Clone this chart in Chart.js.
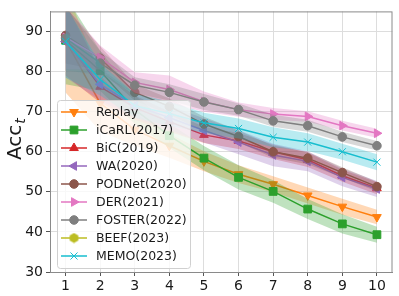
<!DOCTYPE html>
<html>
<head>
<meta charset="utf-8">
<script src="https://cdn.jsdelivr.net/npm/chart.js@4.4.1/dist/chart.umd.min.js"></script>
<style>
  html, body { margin: 0; padding: 0; background: #fff; }
</style>
</head>
<body>
<canvas id="accChart" width="399" height="296"></canvas>
<script>
// tasks on the x axis, tick labels on y
const tasks = [1, 2, 3, 4, 5, 6, 7, 8, 9, 10];
const yTicks = [30, 40, 50, 60, 70, 80, 90];

// mean accuracy per task, with the shaded spread (std)
const replay    = [87.8, 72.1, 65.5, 61.5, 57.6, 54.4, 51.9, 49.1, 46.3, 43.7];
const replayStd = [13, 7, 4, 3, 2.5, 2.2, 2, 2, 2, 1.8];
const icarl     = [87.8, 80.2, 70.5, 64.0, 58.4, 53.6, 50.1, 45.7, 42.0, 39.3];
const icarlStd  = [11, 5, 3.5, 3, 3, 3, 2.8, 2.5, 2.4, 2];
const bic       = [88.0, 76.2, 71.0, 67.5, 64.2, 62.7, 60.0, 58.0, 54.0, 50.9];
const bicStd    = [9, 4, 3, 2.5, 2, 2, 1.8, 1.8, 1.5, 1.5];
const wa        = [87.5, 76.8, 71.5, 68.5, 65.3, 62.4, 59.2, 57.6, 53.6, 50.7];
const waStd     = [9, 4, 3, 3, 3, 3, 2.8, 2.5, 2.2, 2];
const podnet    = [89.0, 83.3, 74.8, 71.3, 66.9, 63.8, 60.0, 58.4, 54.8, 51.3];
const podnetStd = [7, 3, 2, 2, 1.8, 1.5, 1.5, 1.5, 1.3, 1.2];
const der       = [88.5, 83.5, 77.3, 75.5, 72.5, 70.5, 69.4, 68.8, 66.5, 64.6];
const derStd    = [8, 3, 2.5, 3.5, 2.5, 1.8, 1.5, 1.3, 1.2, 1.1];
const foster    = [88.3, 82.1, 76.6, 74.8, 72.4, 70.5, 67.7, 66.5, 63.7, 61.5];
const fosterStd = [8, 3, 2, 2, 2, 1.5, 1.5, 1.5, 1.3, 1.2];
const beef      = [null, null, null, null, null, null, null, null, null, null];
const beefStd   = [null, null, null, null, null, null, null, null, null, null];
const memo      = [87.5, 78.0, 71.5, 69.5, 67.2, 65.8, 63.6, 62.4, 60.0, 57.4];
const memoStd   = [9, 4, 3, 3, 2.5, 2.5, 2.5, 2.2, 2, 2];

// hexagon marker for BEEF (no built-in hexagon in Chart.js)
function hexMarker(color) {
  const c = document.createElement('canvas');
  c.width = 11; c.height = 11;
  const g = c.getContext('2d');
  g.beginPath();
  for (let i = 0; i < 6; i++) {
    const a = Math.PI / 6 + i * Math.PI / 3;
    const px = 5.5 + 5 * Math.cos(a), py = 5.5 + 5 * Math.sin(a);
    i ? g.lineTo(px, py) : g.moveTo(px, py);
  }
  g.closePath();
  g.fillStyle = color;
  g.fill();
  return c;
}

const series = [
  { label: 'Replay',       mean: replay, std: replayStd, color: '#ff7f0e', style: 'triangle', rot: 180, r: 5 },
  { label: 'iCaRL(2017)',  mean: icarl,  std: icarlStd,  color: '#2ca02c', style: 'rect',     rot: 0,   r: 5.5 },
  { label: 'BiC(2019)',    mean: bic,    std: bicStd,    color: '#d62728', style: 'triangle', rot: 0,   r: 5 },
  { label: 'WA(2020)',     mean: wa,     std: waStd,     color: '#9467bd', style: 'triangle', rot: -90, r: 5 },
  { label: 'PODNet(2020)', mean: podnet, std: podnetStd, color: '#8c564b', style: 'circle',   rot: 0,   r: 4.3 },
  { label: 'DER(2021)',    mean: der,    std: derStd,    color: '#e377c2', style: 'triangle', rot: 90,  r: 5 },
  { label: 'FOSTER(2022)', mean: foster, std: fosterStd, color: '#7f7f7f', style: 'circle',   rot: 0,   r: 4.3 },
  { label: 'BEEF(2023)',   mean: beef,   std: beefStd,   color: '#bcbd22', style: hexMarker('#bcbd22'), rot: 0, r: 5 },
  { label: 'MEMO(2023)',   mean: memo,   std: memoStd,   color: '#17becf', style: 'crossRot', rot: 0,   r: 5 },
];

function alpha(hex, a) {
  const n = parseInt(hex.slice(1), 16);
  return `rgba(${n >> 16},${(n >> 8) & 255},${n & 255},${a})`;
}

// band (upper, lower filled to upper) then the line, per series
const datasets = [];
let k = 0;
series.forEach(s => {
  const up = tasks.map((t, i) => ({ x: t, y: s.mean[i] == null ? null : s.mean[i] + s.std[i] }));
  const lo = tasks.map((t, i) => ({ x: t, y: s.mean[i] == null ? null : s.mean[i] - s.std[i] }));
  datasets.push({ data: up, borderWidth: 0, borderColor: 'transparent', pointRadius: 0, fill: false, order: 1000 - k++ });
  datasets.push({ data: lo, borderWidth: 0, borderColor: 'transparent', pointRadius: 0,
                  fill: '-1', backgroundColor: alpha(s.color, 0.3), order: 1000 - k++ });
  datasets.push({
    label: s.label,
    data: tasks.map((t, i) => ({ x: t, y: s.mean[i] })),
    borderColor: s.color, backgroundColor: s.color, borderWidth: 1.5, fill: false,
    pointStyle: s.style, pointRotation: s.rot, pointRadius: s.r,
    pointBackgroundColor: s.color, pointBorderColor: s.color, pointBorderWidth: 1,
    order: 1000 - k++
  });
});

const frame = {
  id: 'frame',
  afterDatasetsDraw(chart) {
    const { ctx, chartArea: a } = chart;
    ctx.save();
    ctx.strokeStyle = '#8a8a8a';
    ctx.lineWidth = 1;
    ctx.strokeRect(a.left + 0.5, a.top + 0.5, a.right - a.left - 1, a.bottom - a.top);
    ctx.restore();
  }
};

const legendBox = {
  id: 'legendBox',
  afterDraw(chart) {
    const ctx = chart.ctx;
    const x0 = 57, y0 = 100, w = 133, h = 168;
    ctx.save();
    ctx.beginPath();
    ctx.roundRect(x0 + 0.5, y0 + 0.5, w, h, 3);
    ctx.fillStyle = 'rgba(255,255,255,0.8)';
    ctx.fill();
    ctx.strokeStyle = '#d0d0d0';
    ctx.lineWidth = 1;
    ctx.stroke();
    ctx.font = '12.5px "DejaVu Sans"';
    ctx.textBaseline = 'middle';
    series.forEach((s, i) => {
      const y = 112 + i * 18;
      ctx.strokeStyle = s.color;
      ctx.lineWidth = 1.5;
      ctx.beginPath();
      ctx.moveTo(61, y);
      ctx.lineTo(87, y);
      ctx.stroke();
      ctx.fillStyle = s.color;
      ctx.lineWidth = 1;
      Chart.helpers.drawPoint(ctx, { pointStyle: s.style, rotation: s.rot, radius: s.r, borderWidth: 1 }, 74, y);
      ctx.fillStyle = '#1a1a1a';
      ctx.fillText(s.label, 96, y + 0.5);
    });
    ctx.restore();
  }
};

const yTitle = {
  id: 'yTitle',
  afterDraw(chart) {
    const ctx = chart.ctx;
    ctx.save();
    ctx.translate(21, 160);
    ctx.rotate(-Math.PI / 2);
    ctx.fillStyle = '#1a1a1a';
    ctx.font = '20px "DejaVu Sans"';
    ctx.textBaseline = 'alphabetic';
    ctx.fillText('Acc', 0, 0);
    const wAcc = ctx.measureText('Acc').width;
    ctx.font = 'italic 14px "DejaVu Sans"';
    ctx.fillText('t', wAcc + 1, 4);
    ctx.restore();
  }
};

new Chart(document.getElementById('accChart'), {
  type: 'line',
  data: { datasets },
  options: {
    responsive: false,
    animation: false,
    devicePixelRatio: 1,
    layout: { padding: { top: 4, right: 4, left: 0, bottom: 0 } },
    elements: { line: { tension: 0 } },
    plugins: { legend: { display: false }, tooltip: { enabled: false } },
    scales: {
      x: {
        type: 'linear', min: 0.55, max: 10.45,
        afterBuildTicks: s => { s.ticks = tasks.map(v => ({ value: v })); },
        afterFit: s => { s.height = 24; },
        ticks: { font: { family: 'DejaVu Sans', size: 14 }, color: '#1a1a1a', padding: 2, maxRotation: 0 },
        grid: { color: '#dddddd', tickLength: 4, tickColor: '#555' },
        border: { color: '#8a8a8a' }
      },
      y: {
        min: 30, max: 95,
        afterBuildTicks: s => { s.ticks = yTicks.map(v => ({ value: v })); },
        afterFit: s => { s.width = 50; },
        ticks: { font: { family: 'DejaVu Sans', size: 14 }, color: '#1a1a1a', padding: 3 },
        grid: { color: '#dddddd', tickLength: 4, tickColor: '#555' },
        border: { color: '#8a8a8a' }
      }
    }
  },
  plugins: [frame, legendBox, yTitle]
});
</script>
</body>
</html>
